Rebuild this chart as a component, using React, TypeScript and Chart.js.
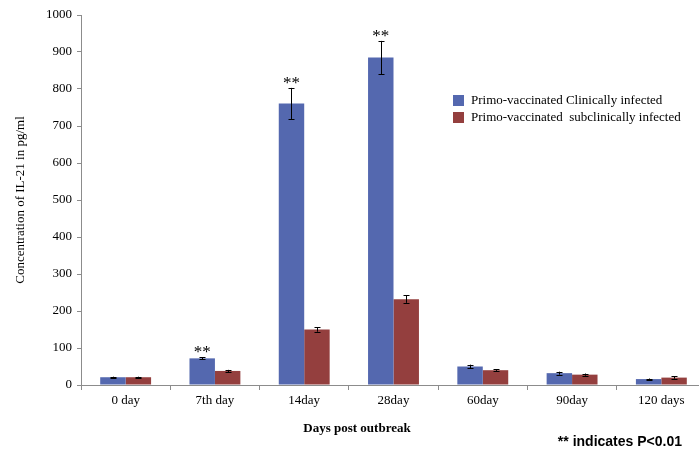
import React, { useEffect, useRef } from "react";
import { Chart, registerables } from "chart.js";

Chart.register(...registerables);

const categories = ["0 day", "7th day", "14day", "28day", "60day", "90day", "120 days"];
const clinical = [21, 72, 761, 885, 50, 32, 16];
const clinicalErr = [1.5, 3, 42, 45, 5, 4, 1.5];
const subclinical = [21, 38, 150, 232, 40, 28, 20];
const subclinicalErr = [1.5, 3, 6, 10, 2, 3, 3];
const significance = ["", "**", "**", "**", "", "", ""];
const seriesNames = ["Primo-vaccinated Clinically infected", "Primo-vaccinated  subclinically infected"];
const colors = ["#5468AF", "#943F3E"];
const yTitle = "Concentration of IL-21 in pg/ml";
const xTitle = "Days post outbreak";
const note = "** indicates P<0.01";

const SERIF = "'Liberation Serif', 'DejaVu Serif', serif";

export default function App() {
  const ref = useRef<HTMLCanvasElement | null>(null);
  useEffect(() => {
    if (!ref.current) return;
    const errs = [clinicalErr, subclinicalErr];
    const extras = {
      id: "extras",
      afterDatasetsDraw(chart: any) {
        const ctx = chart.ctx;
        const y = chart.scales.y;
        ctx.save();
        ctx.strokeStyle = "#000";
        ctx.lineWidth = 1;
        chart.data.datasets.forEach((ds: any, di: number) => {
          const meta = chart.getDatasetMeta(di);
          meta.data.forEach((bar: any, i: number) => {
            const v = ds.data[i];
            const e = errs[di][i];
            const x = Math.round(bar.x) + 0.5;
            const top = y.getPixelForValue(v + e);
            const bot = y.getPixelForValue(v - e);
            ctx.beginPath();
            ctx.moveTo(x, top);
            ctx.lineTo(x, bot);
            ctx.moveTo(x - 3, Math.round(top) + 0.5);
            ctx.lineTo(x + 3, Math.round(top) + 0.5);
            ctx.moveTo(x - 3, Math.round(bot) + 0.5);
            ctx.lineTo(x + 3, Math.round(bot) + 0.5);
            ctx.stroke();
          });
        });
        const meta0 = chart.getDatasetMeta(0);
        ctx.fillStyle = "#000";
        ctx.font = "17px " + SERIF;
        ctx.textAlign = "center";
        ctx.textBaseline = "alphabetic";
        significance.forEach((s, i) => {
          if (!s) return;
          const bar: any = meta0.data[i];
          const top = y.getPixelForValue(clinical[i] + clinicalErr[i]);
          ctx.fillText(s, bar.x, top);
        });
        ctx.restore();
      },
      afterDraw(chart: any) {
        const ctx = chart.ctx;
        ctx.save();
        seriesNames.forEach((name, i) => {
          ctx.fillStyle = colors[i];
          ctx.fillRect(453, 95 + i * 17, 11, 11);
          ctx.fillStyle = "#000";
          ctx.font = "13px " + SERIF;
          ctx.textAlign = "left";
          ctx.textBaseline = "middle";
          ctx.fillText(name, 471, 101 + i * 17);
        });
        ctx.font = "bold 13px " + SERIF;
        ctx.textAlign = "center";
        ctx.textBaseline = "middle";
        ctx.fillText(xTitle, 357, 429);
        ctx.font = "bold 14px 'Liberation Sans', Arial, sans-serif";
        ctx.textAlign = "right";
        ctx.fillText(note, 682, 442);
        ctx.restore();
      },
    };
    const chart = new Chart(ref.current, {
      type: "bar",
      data: {
        labels: categories,
        datasets: [
          { label: seriesNames[0], data: clinical, backgroundColor: colors[0] },
          { label: seriesNames[1], data: subclinical, backgroundColor: colors[1] },
        ],
      },
      options: {
        animation: false,
        responsive: false,
        devicePixelRatio: 1,
        layout: { padding: { top: 15, left: 0, right: 6, bottom: 0 } },
        datasets: { bar: { categoryPercentage: 0.57, barPercentage: 1 } },
        plugins: { legend: { display: false }, tooltip: { enabled: false } },
        scales: {
          x: {
            grid: { display: true, drawOnChartArea: false, drawTicks: true, tickLength: 5, color: "#8c8c8c", offset: true },
            border: { display: true, color: "#8c8c8c" },
            ticks: { color: "#000", font: { size: 13, family: SERIF }, padding: 3, maxRotation: 0, autoSkip: false },
            afterFit(scale: any) { scale.height = 72; },
          },
          y: {
            min: 0,
            max: 1000,
            grid: { display: true, drawOnChartArea: false, drawTicks: true, tickLength: 4, color: "#8c8c8c" },
            border: { display: true, color: "#8c8c8c" },
            ticks: { stepSize: 100, color: "#000", font: { size: 13, family: SERIF }, padding: 5, callback: (v: any) => String(v) },
            title: { display: true, text: yTitle, color: "#000", font: { size: 13, family: SERIF }, padding: { top: 13, bottom: 0 } },
            afterFit(scale: any) { scale.width = 81; },
          },
        },
      },
      plugins: [extras],
    });
    return () => chart.destroy();
  }, []);
  return (
    <div style={{ position: "absolute", left: 0, top: 0, width: 699, height: 457, overflow: "hidden", background: "#fff" }}>
      <canvas ref={ref} width={712} height={457} style={{ display: "block" }} />
    </div>
  );
}
